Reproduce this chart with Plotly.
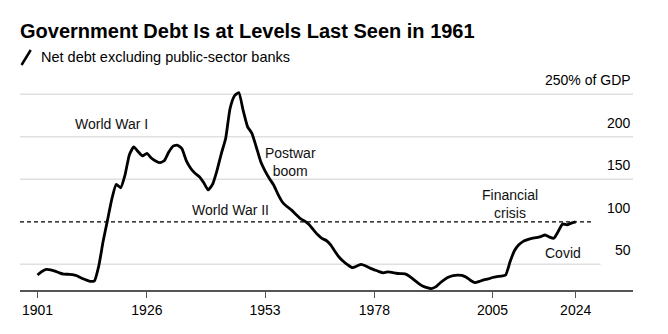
import plotly.graph_objects as go

# UK public-sector net debt excluding public-sector banks, % of GDP
years = list(range(1901, 2025))
debt_pct_gdp = [
    37.4, 41.5, 44.0, 43.5, 42.0, 40.0, 38.5, 38.3, 38.0, 36.5,   # 1901-1910
    34.0, 31.8, 30.0, 30.5, 48.0, 77.0, 102.0, 127.0, 144.0, 140.0,  # 1911-1920
    155.0, 179.0, 188.0, 182.5, 177.5, 180.5, 175.0, 171.5, 169.5, 172.0,  # 1921-1930
    182.0, 189.0, 190.0, 186.0, 172.0, 163.0, 157.0, 153.0, 146.0, 137.5,  # 1931-1940
    144.0, 160.0, 180.0, 198.0, 233.0, 248.0, 252.0, 231.0, 212.0, 204.0,  # 1941-1950
    188.0, 171.0, 160.0, 151.0, 143.0, 132.0, 123.0, 118.0, 114.0, 109.0,  # 1951-1960
    104.0, 101.0, 97.0, 91.0, 85.0, 80.5, 78.0, 73.0, 65.0, 58.0,  # 1961-1970
    53.0, 49.0, 46.0, 48.0, 50.0, 48.0, 45.5, 43.5, 41.5, 40.0,  # 1971-1980
    41.0, 40.5, 39.5, 39.0, 38.7, 36.0, 32.0, 28.0, 24.5, 22.5,  # 1981-1990
    21.5, 23.5, 28.0, 32.0, 35.0, 36.8, 37.4, 37.0, 34.7, 31.0,  # 1991-2000
    28.5, 30.0, 31.8, 32.8, 34.5, 35.5, 36.0, 37.5, 53.0, 66.0,  # 2001-2010
    73.0, 77.0, 79.0, 80.5, 81.3, 82.5, 84.5, 82.0, 80.6, 88.5,  # 2011-2020
    97.4, 96.5, 98.5, 100.0,  # 2021-2024
]

x_ticks = [1901, 1926, 1953, 1978, 2005, 2024]
y_ticks = [50, 100, 150, 200, 250]
y_tick_labels = ["50", "100", "150", "200", "250% of GDP"]

# Event labels: (text, year, level)
events = [
    ("World War I", 1918.0, 215.0),
    ("World War II", 1945.1, 114.0),
    ("Postwar<br>boom", 1958.8, 170.0),
    ("Financial<br>crisis", 2009.1, 121.0),
    ("Covid", 2021.1, 63.0),
]

reference_level = 100  # current level, last seen in 1961

FONT = "Liberation Sans, Arial, sans-serif"
GRID = "#e0e0e0"

fig = go.Figure()
fig.add_trace(go.Scatter(
    x=years, y=debt_pct_gdp, mode="lines",
    line=dict(color="#000000", width=2.8, shape="spline", smoothing=0.5),
    hoverinfo="x+y", showlegend=False,
))

shapes = []
# Horizontal gridlines (the 50 line stops short of the right edge)
for v in (250, 200, 150):
    shapes.append(dict(type="line", xref="paper", yref="y", x0=0, x1=1, y0=v, y1=v,
                       line=dict(color=GRID, width=1.6), layer="below"))
shapes.append(dict(type="line", xref="x", yref="y", x0=1897.0, x1=2029.7, y0=50, y1=50,
                   line=dict(color=GRID, width=1.6), layer="below"))
# Dashed reference line at today's level
shapes.append(dict(type="line", xref="x", yref="y", x0=1897.0, x1=2027.5,
                   y0=reference_level, y1=reference_level,
                   line=dict(color="#000000", width=1.2, dash="4px,3px"), layer="below"))
# Legend glyph: slanted stroke before the subtitle
shapes.append(dict(type="line", xref="paper", yref="paper",
                   x0=0.0025, x1=0.0175, y0=1.125, y1=1.2,
                   line=dict(color="#000000", width=2.5)))

annotations = [
    dict(text="Net debt excluding public-sector banks", xref="paper", yref="paper",
         x=0.031, y=1.165, xanchor="left", yanchor="middle", showarrow=False,
         font=dict(family=FONT, size=14.5, color="#000000")),
]
# Value labels sit just above their gridlines, flush with the right edge
for v, label in zip(y_ticks, y_tick_labels):
    annotations.append(dict(text=label, x=1, y=v, xref="paper", yref="y", showarrow=False,
                            xanchor="right", yanchor="bottom", yshift=4,
                            font=dict(family=FONT, size=14, color="#000000")))
for text, yr, lvl in events:
    annotations.append(dict(text=text, x=yr, y=lvl, xref="x", yref="y", showarrow=False,
                            xanchor="center", yanchor="middle", align="center",
                            font=dict(family=FONT, size=14, color="#111111")))

fig.update_layout(
    width=668, height=334,
    margin=dict(l=20, r=35, t=90, b=44, pad=0),
    paper_bgcolor="#ffffff", plot_bgcolor="#ffffff",
    title=dict(text="<b>Government Debt Is at Levels Last Seen in 1961</b>",
               x=20 / 668, xanchor="left", y=1 - 31 / 334, yanchor="middle",
               font=dict(family=FONT, size=20, color="#000000")),
    xaxis=dict(range=[1897.0, 2037.1], tickvals=x_ticks, ticktext=[str(t) for t in x_ticks],
               showgrid=False, zeroline=False, showline=True, linecolor="#555555", linewidth=1.5,
               ticks="outside", ticklen=6, tickwidth=1.2, tickcolor="#555555",
               tickfont=dict(family=FONT, size=14, color="#000000")),
    yaxis=dict(range=[19.8, 255.0], tickvals=y_ticks, showticklabels=False, ticks="",
               showgrid=False, zeroline=False, showline=False),
    shapes=shapes,
    annotations=annotations,
    showlegend=False,
)

fig.write_html("out.html")
